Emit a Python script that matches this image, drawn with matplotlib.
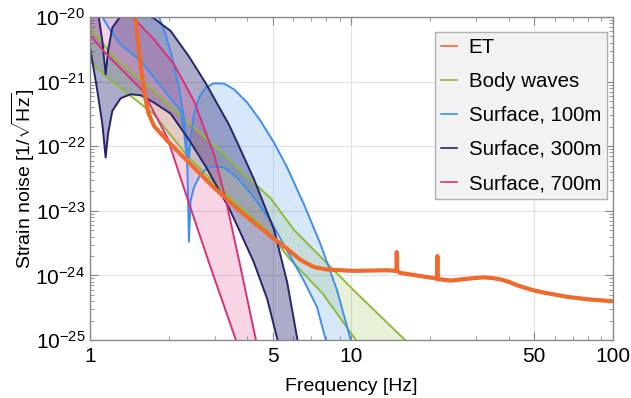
import numpy as np
import matplotlib.pyplot as plt
from matplotlib.lines import Line2D
from matplotlib.ticker import FixedLocator, NullFormatter

plt.rcParams['font.family'] = ['Liberation Sans', 'DejaVu Sans']
plt.rcParams['mathtext.fontset'] = 'custom'
plt.rcParams['mathtext.rm'] = 'Liberation Sans'
plt.rcParams['mathtext.it'] = 'Liberation Sans:italic'

# ET sensitivity (frequency in Hz, log10 strain)
et_f = [1.47, 1.49, 1.56, 1.62, 1.67, 1.76, 1.98, 2.36, 2.98, 3.66,
        4.90, 5.68, 6.38, 7.18, 8.07, 10.2, 13.7, 14.85, 14.9, 14.95,
        15.3, 20.5, 21.25, 21.3, 21.35, 21.8, 24.0, 28.0, 31.9, 34.5,
        37.0, 40.0, 42.8, 46.0, 49.6, 55.0, 66.5, 80.0, 100]
et_logh = [-19.9, -20.0, -20.73, -21.20, -21.48, -21.69, -21.92, -22.23, -22.64, -22.97,
           -23.39, -23.59, -23.76, -23.87, -23.91, -23.93, -23.92, -23.93, -23.64, -23.93,
           -23.96, -24.04, -24.05, -23.70, -24.06, -24.06, -24.08, -24.05, -24.03, -24.04,
           -24.06, -24.10, -24.15, -24.19, -24.23, -24.27, -24.33, -24.37, -24.40]

# body waves band
body_hi_f = [1.0, 1.235, 1.66, 2.355, 3.158, 3.994, 4.903, 6.038, 7.75, 10.39, 16.5]
body_hi_logh = [-20.155, -20.629, -21.052, -21.619, -22.072, -22.474, -22.804, -23.299,
                -23.742, -24.263, -25.05]
body_lo_f = [1.0, 1.165, 1.430, 1.756, 2.355, 2.978, 3.657, 4.903, 5.778, 7.75, 10.6]
body_lo_logh = [-20.680, -20.938, -21.222, -21.505, -22.149, -22.562, -22.897, -23.361,
                -23.737, -24.278, -25.05]

# surface waves, 100 m
s100_hi_f = [1.782, 1.835, 1.946, 2.063, 2.188, 2.287, 2.355, 2.390, 2.425, 2.497,
             2.610, 2.767, 2.978, 3.252, 3.550, 3.994, 4.489, 5.050, 5.676, 6.574,
             7.61, 8.814, 9.91, 10.2]
s100_hi_logh = [-19.804, -20.0, -20.268, -20.629, -21.093, -21.557, -21.969, -22.175, -21.866, -21.505,
                -21.247, -21.093, -21.026, -21.031, -21.119, -21.325, -21.608, -21.943, -22.330, -22.897,
                -23.515, -24.237, -24.985, -25.165]
s100_lo_f = [1.067, 1.115, 1.199, 1.310, 1.430, 1.562, 1.756, 1.975, 2.221, 2.287,
             2.355, 2.390, 2.425, 2.497, 2.648, 2.808, 2.978, 3.252, 3.657, 4.235,
             4.903, 5.676, 6.574, 7.39, 7.956, 8.07]
s100_lo_logh = [-19.753, -20.0, -20.216, -20.423, -20.552, -20.680, -20.938, -21.196, -21.454, -21.763,
                -22.278, -23.479, -22.845, -22.639, -22.433, -22.340, -22.314, -22.330, -22.485, -22.794,
                -23.155, -23.619, -24.082, -24.495, -24.985, -25.113]

# surface waves, 300 m
s300_hi_f = [1.0, 1.067, 1.115, 1.148, 1.172, 1.217, 1.310, 1.430, 1.562, 1.756,
             2.034, 2.397, 2.776, 3.408, 3.722, 4.235, 5.064, 5.676, 6.217, 6.383]
s300_hi_logh = [-19.18, -19.856, -20.371, -20.887, -20.526, -20.165, -19.985, -19.907, -19.933, -20.021,
                -20.216, -20.619, -21.031, -21.675, -22.010, -22.510, -23.299, -24.108, -25.0, -25.268]
s300_lo_f = [1.0, 1.067, 1.115, 1.148, 1.172, 1.217, 1.310, 1.430, 1.562, 1.756,
             2.034, 2.397, 2.776, 3.408, 3.722, 4.235, 4.762, 5.214, 5.276]
s300_lo_logh = [-20.469, -21.144, -21.660, -22.175, -21.814, -21.454, -21.258, -21.196, -21.211, -21.325,
                -21.495, -21.907, -22.320, -22.964, -23.299, -23.799, -24.366, -25.0, -25.113]

# surface waves, 700 m
s700_hi_f = [1.0, 1.310, 1.451, 1.756, 2.094, 2.497, 2.978, 3.309, 3.765, 4.310, 4.385]
s700_hi_logh = [-19.0, -19.649, -20.0, -20.345, -20.732, -21.299, -22.124, -22.835, -23.876, -25.0, -25.165]
s700_lo_f = [1.0, 1.186, 1.585, 1.975, 2.327, 2.892, 3.614, 3.679]
s700_lo_logh = [-20.284, -20.624, -21.134, -21.866, -22.742, -23.876, -25.0, -25.165]

labels = ['ET', 'Body waves', 'Surface, 100m', 'Surface, 300m', 'Surface, 700m']
c_et = '#f06a2c'
c_body = '#8dbb3a'
c_100 = '#3f8fec'
c_300 = '#26246f'
c_700 = '#d8307d'

y_ticks = [1e-25, 1e-24, 1e-23, 1e-22, 1e-21, 1e-20]
y_ticklabels = [r'$10^{-25}$', r'$10^{-24}$', r'$10^{-23}$', r'$10^{-22}$', r'$10^{-21}$', r'$10^{-20}$']


def band(ax, f1, l1, f2, l2, color, alpha):
    xs = np.concatenate([f1, f2[::-1]])
    ys = 10.0 ** np.concatenate([l1, l2[::-1]])
    ax.fill(xs, ys, color=color, alpha=alpha, lw=0)


def main():
    fig = plt.figure(figsize=(6.31, 3.98), dpi=100)
    ax = fig.add_axes([0.1426, 0.1457, 0.8289, 0.8116])
    ax.set_xscale('log')
    ax.set_yscale('log')

    bands = [
        (body_hi_f, body_hi_logh, body_lo_f, body_lo_logh, c_body, 0.2),
        (s100_hi_f, s100_hi_logh, s100_lo_f, s100_lo_logh, c_100, 0.2),
        (s300_hi_f, s300_hi_logh, s300_lo_f, s300_lo_logh, c_300, 0.38),
        (s700_hi_f, s700_hi_logh, s700_lo_f, s700_lo_logh, c_700, 0.2),
    ]
    for f1, l1, f2, l2, col, al in bands:
        band(ax, np.array(f1), np.array(l1), np.array(f2), np.array(l2), col, al)
    for f1, l1, f2, l2, col, al in bands:
        ax.plot(f1, 10.0 ** np.array(l1), color=col, lw=1.4)
        ax.plot(f2, 10.0 ** np.array(l2), color=col, lw=1.4)

    ax.plot(et_f, 10.0 ** np.array(et_logh), color=c_et, lw=3.0)

    ax.set_xlim(1, 100)
    ax.set_ylim(1e-25, 1e-20)

    ax.xaxis.set_major_locator(FixedLocator([1, 5, 10, 50, 100]))
    ax.set_xticklabels(['1', '5', '10', '50', '100'])
    ax.xaxis.set_minor_locator(FixedLocator([2, 3, 4, 6, 7, 8, 9, 20, 30, 40, 60, 70, 80, 90]))
    ax.xaxis.set_minor_formatter(NullFormatter())
    ax.yaxis.set_major_locator(FixedLocator(y_ticks))
    ax.set_yticklabels(y_ticklabels)
    minors = [m * 10.0 ** e for e in range(-25, -20) for m in range(2, 10)]
    ax.yaxis.set_minor_locator(FixedLocator(minors))
    ax.yaxis.set_minor_formatter(NullFormatter())

    ax.tick_params(which='both', direction='in', top=True, right=True, color='#888888',
                   labelsize=15, labelcolor='black')
    ax.tick_params(axis='x', which='major', pad=5)
    ax.tick_params(which='major', length=6, width=0.8)
    ax.tick_params(which='minor', length=3, width=0.6)
    for sp in ax.spines.values():
        sp.set_color('#8a8a8a')
        sp.set_linewidth(1.0)
    ax.grid(True, which='major', color='#e3e3e3', lw=0.9)
    ax.set_axisbelow(True)

    ax.set_xlabel('Frequency [Hz]', fontsize=14, labelpad=9)
    ax.set_ylabel(r'Strain noise [1/$\sqrt{\mathrm{Hz}}$]', fontsize=14, labelpad=-1)

    handles = [Line2D([], [], color=c, lw=1.2) for c in [c_et, c_body, c_100, c_300, c_700]]
    leg = ax.legend(handles, labels, loc='upper right', bbox_to_anchor=(0.989, 0.955),
                    fontsize=14.7, frameon=True, fancybox=False, framealpha=1,
                    facecolor='#f2f2f2', edgecolor='#b0b0b0', handlelength=0.8,
                    handletextpad=0.55, labelspacing=0.74, borderpad=0.3, borderaxespad=0)
    leg.get_frame().set_linewidth(1.0)

    fig.savefig('out.png', dpi=100)


if __name__ == '__main__':
    main()
